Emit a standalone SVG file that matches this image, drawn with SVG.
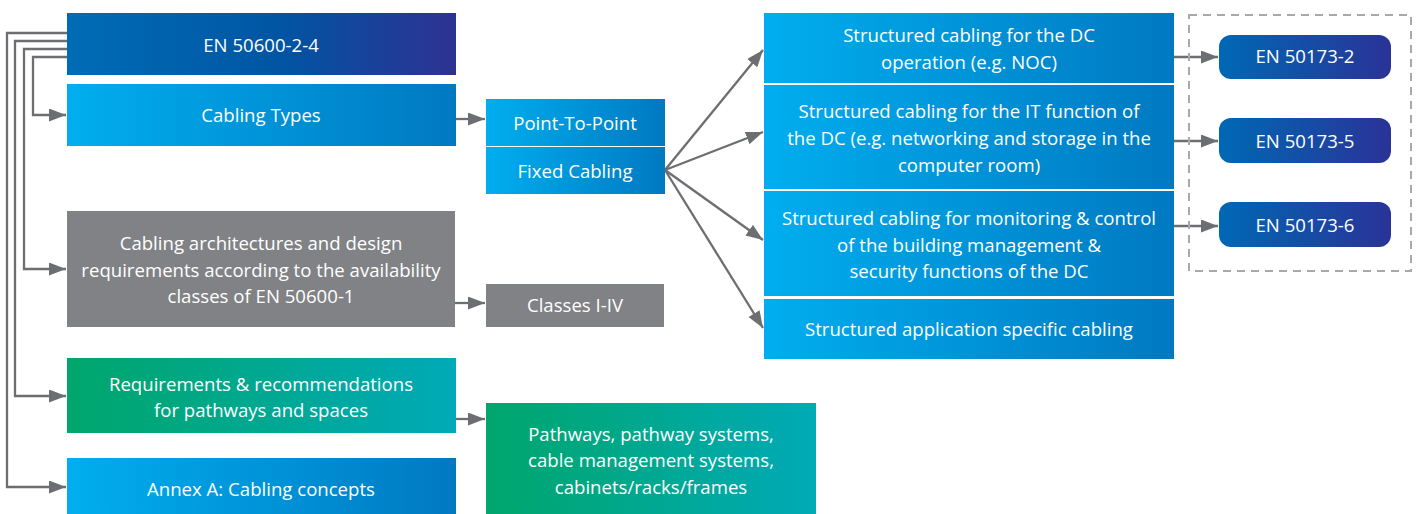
<svg xmlns="http://www.w3.org/2000/svg" width="1416" height="514" viewBox="0 0 1416 514">
<defs>
<linearGradient id="gBlue" x1="0" y1="0" x2="1" y2="0"><stop offset="0" stop-color="#00aeef"/><stop offset="1" stop-color="#0079c1"/></linearGradient>
<linearGradient id="gDark" x1="0" y1="0" x2="1" y2="0"><stop offset="0" stop-color="#006cb6"/><stop offset="0.55" stop-color="#0055a3"/><stop offset="1" stop-color="#2e3192"/></linearGradient>
<linearGradient id="gEn" x1="0" y1="0" x2="1" y2="0"><stop offset="0" stop-color="#0068b5"/><stop offset="1" stop-color="#2a3397"/></linearGradient>
<linearGradient id="gGreen" x1="0" y1="0" x2="1" y2="0"><stop offset="0" stop-color="#00a66b"/><stop offset="1" stop-color="#00aab7"/></linearGradient>
<marker id="ah" markerUnits="userSpaceOnUse" markerWidth="18" markerHeight="14" refX="17" refY="6.5" orient="auto"><path d="M0,0 L17,6.5 L0,13 z" fill="#6d6e71"/></marker>
</defs>
<style>
text{font-family:"Open Sans","Noto Sans","Liberation Sans",sans-serif;font-size:18.6px;fill:#ffffff;text-anchor:middle}
.c{fill:none;stroke:#6d6e71;stroke-width:2.3}
.a{marker-end:url(#ah)}
</style>
<g id="connectors">
<path class="c a" d="M67,57 H33 V115 H66"/>
<path class="c a" d="M67,49 H24 V269 H66"/>
<path class="c a" d="M67,41 H15 V396 H66"/>
<path class="c a" d="M67,33 H7 V487 H66"/>
<path class="c a" d="M456,119 H485"/>
<path class="c a" d="M455,303 H485"/>
<path class="c a" d="M456,419 H485"/>
<path class="c a" d="M665,170 L763,50"/>
<path class="c a" d="M665,170 L763,132"/>
<path class="c a" d="M665,170 L763,240"/>
<path class="c a" d="M665,170 L763,328"/>
<path class="c a" d="M1174,57 H1218"/>
<path class="c a" d="M1174,141 H1218"/>
<path class="c a" d="M1174,226 H1218"/>
<rect x="1189" y="15" width="222" height="256" fill="none" stroke="#a7a9ac" stroke-width="2" stroke-dasharray="8,6"/>
</g>
<g id="n-en50600"><rect x="67" y="13" width="389" height="62" fill="url(#gDark)"/><text x="261" y="52">EN 50600-2-4</text></g>
<g id="n-cabtypes"><rect x="67" y="84" width="389" height="62" fill="url(#gBlue)"/><text x="261" y="122">Cabling Types</text></g>
<g id="n-arch"><rect x="67" y="211" width="388" height="116" fill="#808285"/><text x="261" y="250">Cabling architectures and design</text><text x="261" y="277">requirements according to the availability</text><text x="261" y="303">classes of EN 50600-1</text></g>
<g id="n-req"><rect x="67" y="358" width="389" height="75" fill="url(#gGreen)"/><text x="261" y="391">Requirements &amp; recommendations</text><text x="261" y="417">for pathways and spaces</text></g>
<g id="n-annex"><rect x="67" y="458" width="389" height="56" fill="url(#gBlue)"/><text x="261" y="496">Annex A: Cabling concepts</text></g>
<g id="n-p2p"><rect x="486" y="99" width="179" height="47" fill="url(#gBlue)"/><text x="575" y="130">Point-To-Point</text></g>
<g id="n-fixed"><rect x="486" y="147" width="179" height="47" fill="url(#gBlue)"/><text x="575" y="178">Fixed Cabling</text></g>
<g id="n-classes"><rect x="486" y="284" width="178" height="43" fill="#808285"/><text x="575" y="312">Classes I-IV</text></g>
<g id="n-pathways"><rect x="486" y="403" width="330" height="111" fill="url(#gGreen)"/><text x="651" y="441">Pathways, pathway systems,</text><text x="651" y="467">cable management systems,</text><text x="651" y="494">cabinets/racks/frames</text></g>
<g id="n-sc1"><rect x="764" y="13" width="410" height="70" fill="url(#gBlue)"/><text x="969" y="42">Structured cabling for the DC</text><text x="969" y="69">operation (e.g. NOC)</text></g>
<g id="n-sc2"><rect x="764" y="85" width="410" height="104" fill="url(#gBlue)"/><text x="969" y="118">Structured cabling for the IT function of</text><text x="969" y="145">the DC (e.g. networking and storage in the</text><text x="969" y="172">computer room)</text></g>
<g id="n-sc3"><rect x="764" y="191" width="410" height="105" fill="url(#gBlue)"/><text x="969" y="225">Structured cabling for monitoring &amp; control</text><text x="969" y="252">of the building management &amp;</text><text x="969" y="278">security functions of the DC</text></g>
<g id="n-sc4"><rect x="764" y="299" width="410" height="60" fill="url(#gBlue)"/><text x="969" y="336">Structured application specific cabling</text></g>
<g id="n-en2"><rect x="1219" y="35" width="172" height="44" rx="12" fill="url(#gEn)"/><text x="1305" y="63">EN 50173-2</text></g>
<g id="n-en5"><rect x="1219" y="118" width="172" height="45" rx="12" fill="url(#gEn)"/><text x="1305" y="148">EN 50173-5</text></g>
<g id="n-en6"><rect x="1219" y="202" width="172" height="45" rx="12" fill="url(#gEn)"/><text x="1305" y="232">EN 50173-6</text></g>
</svg>
